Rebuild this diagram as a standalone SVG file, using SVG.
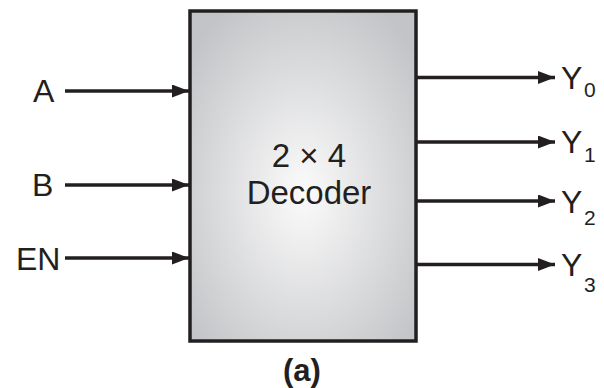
<svg xmlns="http://www.w3.org/2000/svg" width="604" height="388" viewBox="0 0 604 388">
<style>
.lbl{font-family:"Liberation Sans",Arial,sans-serif;font-size:32px;fill:#231f20}
.sub{font-family:"Liberation Sans",Arial,sans-serif;font-size:21px;fill:#231f20}
.wire{stroke:#231f20;stroke-width:3.4;fill:none}
</style>
<defs>
<radialGradient id="g" cx="0.5" cy="0.55" r="0.65">
<stop offset="0" stop-color="#fbfbfb"/>
<stop offset="1" stop-color="#c3c4c7"/>
</radialGradient>
<marker id="ah" viewBox="0 0 17 13" refX="17" refY="6.5" markerWidth="17" markerHeight="13" markerUnits="userSpaceOnUse" orient="auto">
<path d="M0,0 L17,6.5 L0,13 Z" fill="#231f20"/>
</marker>
</defs>
<g id="decoder">
<rect x="190" y="11" width="226" height="330" fill="url(#g)" stroke="#231f20" stroke-width="3.5"/>
<text class="lbl" x="309" y="167" text-anchor="middle" style="font-size:33px">2 × 4</text>
<text class="lbl" x="309" y="204" text-anchor="middle" style="font-size:33px">Decoder</text>
</g>
<g id="connectors">
<line class="wire" x1="65" y1="91" x2="189" y2="91" marker-end="url(#ah)"/>
<line class="wire" x1="65" y1="185" x2="189" y2="185" marker-end="url(#ah)"/>
<line class="wire" x1="65" y1="258" x2="189" y2="258" marker-end="url(#ah)"/>
<line class="wire" x1="416" y1="77.5" x2="555" y2="77.5" marker-end="url(#ah)"/>
<line class="wire" x1="416" y1="142" x2="555" y2="142" marker-end="url(#ah)"/>
<line class="wire" x1="416" y1="201" x2="555" y2="201" marker-end="url(#ah)"/>
<line class="wire" x1="416" y1="264.5" x2="555" y2="264.5" marker-end="url(#ah)"/>
</g>
<g id="in-A"><text class="lbl" x="33" y="101.5">A</text></g>
<g id="in-B"><text class="lbl" x="32" y="195.5">B</text></g>
<g id="in-EN"><text class="lbl" x="16" y="269.5">EN</text></g>
<g id="out-Y0"><text class="lbl" x="561" y="88.5">Y</text><text class="sub" x="584" y="97">0</text></g>
<g id="out-Y1"><text class="lbl" x="561" y="153">Y</text><text class="sub" x="584" y="162">1</text></g>
<g id="out-Y2"><text class="lbl" x="561" y="212.5">Y</text><text class="sub" x="584" y="225">2</text></g>
<g id="out-Y3"><text class="lbl" x="561" y="276">Y</text><text class="sub" x="584" y="292">3</text></g>
<g id="caption"><text class="lbl" x="302" y="381" text-anchor="middle" font-weight="bold" style="font-size:31px">(a)</text></g>
</svg>
